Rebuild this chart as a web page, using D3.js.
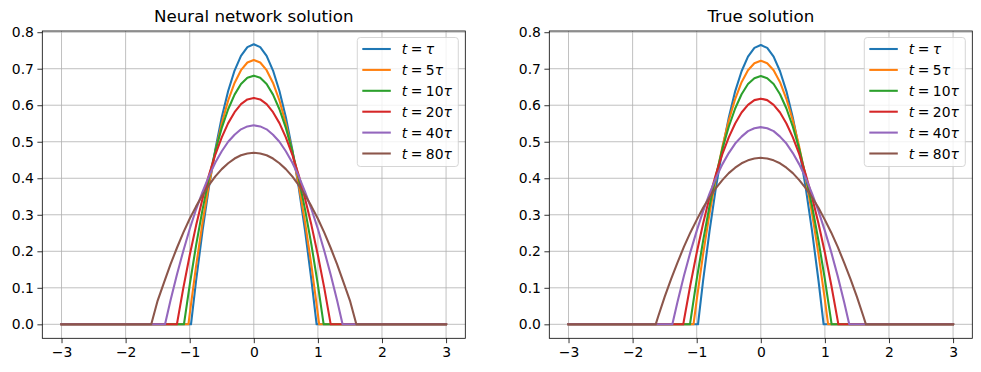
<!DOCTYPE html>
<html>
<head>
<meta charset="utf-8">
<script src="https://cdn.jsdelivr.net/npm/d3@7"></script>
<style>
  body { margin: 0; background: #fff; }
  svg { font-family: "DejaVu Sans", sans-serif; }
</style>
</head>
<body>
<div id="chart"></div>
<script>
// x positions of the samples (outside the support the value is 0)
var xGrid = [-1.6, -1.5, -1.4, -1.3, -1.2, -1.1, -1.0, -0.9, -0.8, -0.7, -0.6, -0.5, -0.4, -0.3, -0.2, -0.1, 0,
  0.1, 0.2, 0.3, 0.4, 0.5, 0.6, 0.7, 0.8, 0.9, 1.0, 1.1, 1.2, 1.3, 1.4, 1.5, 1.6];
var xStart = -3;
var xEnd = 3;

var labelCounts = ["", "5", "10", "20", "40", "80"];
var colors = ["#1f77b4", "#ff7f0e", "#2ca02c", "#d62728", "#9467bd", "#8c564b"];

// neural network solution
var nnTau = [0, 0, 0, 0, 0, 0, 0, 0.120, 0.256, 0.376, 0.479, 0.567, 0.639, 0.695, 0.735, 0.759, 0.767,
  0.759, 0.735, 0.695, 0.639, 0.567, 0.479, 0.376, 0.256, 0.120, 0, 0, 0, 0, 0, 0, 0];
var nn5 = [0, 0, 0, 0, 0, 0, 0.028, 0.160, 0.279, 0.383, 0.473, 0.550, 0.613, 0.661, 0.696, 0.717, 0.724,
  0.717, 0.696, 0.661, 0.613, 0.550, 0.473, 0.383, 0.279, 0.160, 0.028, 0, 0, 0, 0, 0, 0];
var nn10 = [0, 0, 0, 0, 0, 0, 0.108, 0.217, 0.314, 0.400, 0.475, 0.538, 0.589, 0.629, 0.658, 0.675, 0.681,
  0.675, 0.658, 0.629, 0.589, 0.538, 0.475, 0.400, 0.314, 0.217, 0.108, 0, 0, 0, 0, 0, 0];
var nn20 = [0, 0, 0, 0, 0, 0.099, 0.189, 0.271, 0.344, 0.409, 0.465, 0.512, 0.551, 0.581, 0.603, 0.616, 0.620,
  0.616, 0.603, 0.581, 0.551, 0.512, 0.465, 0.409, 0.344, 0.271, 0.189, 0.099, 0, 0, 0, 0, 0];
var nn40 = [0, 0, 0, 0.065, 0.136, 0.201, 0.261, 0.315, 0.363, 0.406, 0.443, 0.474, 0.500, 0.519, 0.534, 0.542, 0.545,
  0.542, 0.534, 0.519, 0.500, 0.474, 0.443, 0.406, 0.363, 0.315, 0.261, 0.201, 0.136, 0.065, 0, 0, 0];
var nn80 = [0, 0.065, 0.115, 0.164, 0.209, 0.251, 0.289, 0.323, 0.354, 0.381, 0.405, 0.425, 0.441, 0.454, 0.463, 0.468, 0.470,
  0.468, 0.463, 0.454, 0.441, 0.425, 0.405, 0.381, 0.354, 0.323, 0.289, 0.251, 0.209, 0.164, 0.115, 0.065, 0];
var nnFeet = [0.98, 1.02, 1.09, 1.2, 1.385, 1.605];

// true solution
var trTau = [0, 0, 0, 0, 0, 0, 0, 0.120, 0.255, 0.375, 0.478, 0.566, 0.638, 0.693, 0.733, 0.757, 0.765,
  0.757, 0.733, 0.693, 0.638, 0.566, 0.478, 0.375, 0.255, 0.120, 0, 0, 0, 0, 0, 0, 0];
var tr5 = [0, 0, 0, 0, 0, 0, 0.067, 0.192, 0.303, 0.401, 0.486, 0.558, 0.617, 0.663, 0.696, 0.715, 0.722,
  0.715, 0.696, 0.663, 0.617, 0.558, 0.486, 0.401, 0.303, 0.192, 0.067, 0, 0, 0, 0, 0, 0];
var tr10 = [0, 0, 0, 0, 0, 0.006, 0.123, 0.229, 0.324, 0.407, 0.480, 0.541, 0.591, 0.630, 0.658, 0.674, 0.680,
  0.674, 0.658, 0.630, 0.591, 0.541, 0.480, 0.407, 0.324, 0.229, 0.123, 0.006, 0, 0, 0, 0, 0];
var tr20 = [0, 0, 0, 0, 0.010, 0.107, 0.196, 0.276, 0.348, 0.411, 0.466, 0.512, 0.550, 0.580, 0.601, 0.614, 0.618,
  0.614, 0.601, 0.580, 0.550, 0.512, 0.466, 0.411, 0.348, 0.276, 0.196, 0.107, 0.010, 0, 0, 0, 0];
var tr40 = [0, 0, 0, 0.061, 0.132, 0.197, 0.256, 0.310, 0.358, 0.401, 0.438, 0.469, 0.495, 0.514, 0.529, 0.537, 0.540,
  0.537, 0.529, 0.514, 0.495, 0.469, 0.438, 0.401, 0.358, 0.310, 0.256, 0.197, 0.132, 0.061, 0, 0, 0];
var tr80 = [0.022, 0.075, 0.124, 0.169, 0.212, 0.251, 0.286, 0.319, 0.348, 0.373, 0.395, 0.414, 0.429, 0.441, 0.449, 0.454, 0.456,
  0.454, 0.449, 0.441, 0.429, 0.414, 0.395, 0.373, 0.348, 0.319, 0.286, 0.251, 0.212, 0.169, 0.124, 0.075, 0.022];
var trFeet = [0.98, 1.05, 1.105, 1.21, 1.38, 1.64];

var xTicks = [-3, -2, -1, 0, 1, 2, 3];
var yTicks = [0, 0.1, 0.2, 0.3, 0.4, 0.5, 0.6, 0.7, 0.8];

var svgWidth = 981;
var svgHeight = 372;

var svg = d3.select("#chart")
  .append("svg")
  .attr("width", svgWidth)
  .attr("height", svgHeight);

var plotWidth = 423;
var plotHeight = 307.3;

// zero stretch, the support between the feet, zero stretch
function buildPoints(values, foot) {
  var pts = [[xStart, 0], [-foot, 0]];
  xGrid.forEach(function(x, i) {
    if (Math.abs(x) < foot - 1e-9) pts.push([x, values[i]]);
  });
  pts.push([foot, 0]);
  pts.push([xEnd, 0]);
  return pts;
}

function drawPanel(left, title, seriesList, feet) {
  var top = 31;
  var g = svg.append("g").attr("transform", `translate(${left}, ${top})`);

  var xScale = d3.scaleLinear().domain([-3.3, 3.3]).range([0, plotWidth]);
  var yScale = d3.scaleLinear().domain([-0.0383, 0.8033]).range([plotHeight, 0]);

  // grid
  g.append("g").selectAll("line").data(xTicks).enter().append("line")
    .attr("x1", d => xScale(d)).attr("x2", d => xScale(d))
    .attr("y1", 0).attr("y2", plotHeight)
    .attr("stroke", "#b0b0b0").attr("stroke-width", 0.8);
  g.append("g").selectAll("line").data(yTicks).enter().append("line")
    .attr("y1", d => yScale(d)).attr("y2", d => yScale(d))
    .attr("x1", 0).attr("x2", plotWidth)
    .attr("stroke", "#b0b0b0").attr("stroke-width", 0.8);

  // curves
  var line = d3.line()
    .x(d => xScale(d[0]))
    .y(d => yScale(d[1]));

  seriesList.forEach(function(values, i) {
    g.append("path")
      .datum(buildPoints(values, feet[i]))
      .attr("d", line)
      .attr("fill", "none")
      .attr("stroke", colors[i])
      .attr("stroke-width", 2.08)
      .attr("stroke-linejoin", "round")
      .attr("stroke-linecap", "square");
  });

  // axes
  var bottomAxis = d3.axisBottom(xScale).tickValues(xTicks).tickSize(4.9).tickPadding(3.5)
    .tickFormat(d => (d < 0 ? "\u2212" + Math.abs(d) : d));
  var leftAxis = d3.axisLeft(yScale).tickValues(yTicks).tickSize(4.9).tickPadding(3.5)
    .tickFormat(d3.format(".1f"));

  var xAxis = g.append("g").attr("transform", `translate(0, ${plotHeight})`).call(bottomAxis);
  var yAxis = g.append("g").call(leftAxis);
  [xAxis, yAxis].forEach(function(ax) {
    ax.select(".domain").remove();
    ax.selectAll("line").attr("stroke", "#000").attr("stroke-width", 0.8);
    ax.selectAll("text").attr("fill", "#000").style("font-size", "13.9px")
      .style("font-family", "DejaVu Sans");
  });

  // frame
  g.append("rect")
    .attr("width", plotWidth).attr("height", plotHeight)
    .attr("fill", "none").attr("stroke", "#000").attr("stroke-width", 0.8);

  // title
  g.append("text")
    .attr("x", plotWidth / 2).attr("y", -9.5)
    .attr("text-anchor", "middle")
    .style("font-size", "16.7px")
    .text(title);

  // legend
  var legend = g.append("g").attr("transform", `translate(${plotWidth - 108}, 6.5)`);
  legend.append("rect")
    .attr("width", 101).attr("height", 129)
    .attr("rx", 3).attr("ry", 3)
    .attr("fill", "#fff").attr("fill-opacity", 0.8)
    .attr("stroke", "#cccccc").attr("stroke-width", 0.8);

  labelCounts.forEach(function(c, i) {
    var ly = 11.5 + i * 20.9;
    legend.append("line")
      .attr("x1", 5).attr("x2", 33.5)
      .attr("y1", ly).attr("y2", ly)
      .attr("stroke", colors[i]).attr("stroke-width", 2.08);
    var t = legend.append("text")
      .attr("x", 44.5).attr("y", ly + 5)
      .style("font-size", "13.9px");
    t.append("tspan").style("font-style", "italic").text("t");
    t.append("tspan").text("\u2005=\u2005" + c);
    t.append("tspan").style("font-style", "italic").text("\u03c4");
  });
}

drawPanel(42.3, "Neural network solution", [nnTau, nn5, nn10, nn20, nn40, nn80], nnFeet);
drawPanel(549.3, "True solution", [trTau, tr5, tr10, tr20, tr40, tr80], trFeet);
</script>
</body>
</html>
